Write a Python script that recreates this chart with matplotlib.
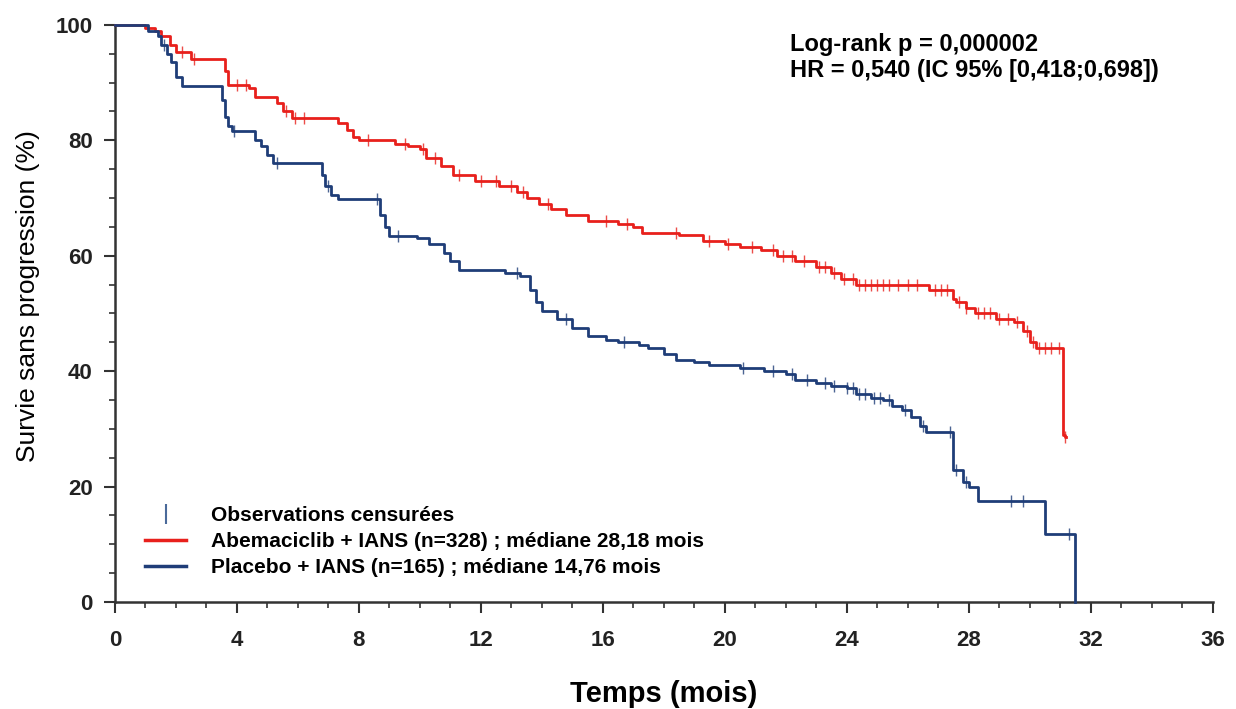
import numpy as np
import matplotlib
matplotlib.use("Agg")
from matplotlib import pyplot as plt
from matplotlib.lines import Line2D
from matplotlib.ticker import MultipleLocator

# Abemaciclib + IANS : step times (months) and survival (%)
abema_t = [0, 1.0, 1.3, 1.5, 1.8, 2.0, 2.5, 3.6, 3.7, 4.4, 4.6, 5.3, 5.5, 5.8, 7.3, 7.6, 7.8,
           8.0, 9.2, 9.6, 10.0, 10.2, 10.7, 11.1, 11.8, 12.6, 13.2, 13.5, 13.9, 14.3, 14.8,
           15.5, 16.5, 17.0, 17.3, 18.5, 19.3, 20.0, 20.5, 21.2, 21.7, 22.3, 23.0, 23.5,
           23.8, 24.3, 26.7, 27.5, 27.6, 27.9, 28.2, 28.9, 29.5, 29.8, 30.0, 30.2, 31.1, 31.15]
abema_s = [100, 99.5, 99, 98, 96.5, 95.3, 94, 92, 89.6, 89, 87.5, 86.5, 85, 83.9, 83, 81.8, 80.5,
           80, 79.3, 79, 78.5, 77, 75.5, 74, 73, 72, 71, 70, 69, 68, 67,
           66, 65.5, 65, 64, 63.5, 62.5, 62, 61.5, 61, 60, 59, 58, 57,
           56, 55, 54, 52.5, 52, 51, 50, 49, 48.5, 47, 45, 44, 29, 28.5]
abema_end = 31.2
abema_cens = [2.2, 2.6, 4.0, 4.3, 5.6, 5.9, 6.2, 8.3, 9.5, 10.1, 10.5, 11.3, 12.0, 12.5,
              13.0, 13.4, 14.2, 16.1, 16.8, 18.4, 19.5, 20.1, 20.9, 21.6, 21.9, 22.2, 22.6,
              23.1, 23.3, 23.6, 23.9, 24.2, 24.4, 24.6, 24.8, 25.0, 25.2, 25.4, 25.7, 26.0,
              26.3, 26.9, 27.1, 27.3, 27.7, 27.9, 28.3, 28.5, 28.7, 29.0, 29.3, 29.6, 29.9,
              30.1, 30.3, 30.5, 30.7, 30.95, 31.15]

# Placebo + IANS
plac_t = [0, 1.1, 1.4, 1.5, 1.7, 1.85, 2.0, 2.2, 3.5, 3.6,
          3.7, 3.85, 4.6, 4.8, 5.0, 5.2, 6.8, 6.9, 7.1, 7.3,
          8.7, 8.85, 9.0, 9.9, 10.3, 10.8, 11.0, 11.3, 12.8, 13.3,
          13.6, 13.8, 14.0, 14.5, 15.0, 15.5, 16.1, 16.5, 17.2, 17.5,
          18.0, 18.4, 19.0, 19.5, 20.5, 21.3, 22.0, 22.3, 23.0, 23.5,
          24.0, 24.3, 24.8, 25.2, 25.5, 25.8, 26.1, 26.4, 26.6, 27.5,
          27.8, 28.0, 28.3, 30.5, 31.5]
plac_s = [100, 99, 98, 96.5, 95, 93.5, 91, 89.4, 87, 84,
          82.5, 81.6, 80, 79, 77.5, 76, 74, 72, 70.5, 69.8,
          67, 65, 63.4, 63, 62, 60.5, 59, 57.5, 57, 56.5,
          54, 52, 50.4, 49, 47.5, 46, 45.4, 45, 44.5, 44,
          43, 42, 41.5, 41, 40.5, 40, 39.5, 38.5, 38, 37.4,
          37, 36, 35.4, 35, 34, 33.3, 32, 30.5, 29.5, 22.9,
          20.8, 20, 17.5, 11.8, 0]
plac_end = 31.5
plac_cens = [1.6, 3.9, 5.3, 7.0, 8.6, 9.3, 13.2, 14.8, 16.7, 20.6, 21.6, 22.2, 22.7, 23.3,
             23.6, 24.0, 24.2, 24.4, 24.6, 24.9, 25.1, 25.4, 25.9, 26.5, 27.4, 27.6, 27.9,
             29.4, 29.8, 31.3]

red = "#e8201c"
blue = "#1f3d78"


def survival_at(times, surv, t):
    idx = np.searchsorted(times, t, side="right") - 1
    return np.asarray(surv)[idx]


fig = plt.figure(figsize=(12.36, 7.09), dpi=100)
ax = fig.add_axes([0.093, 0.151, 0.888, 0.814])

for times, surv, end, cens, color in [
    (abema_t, abema_s, abema_end, abema_cens, red),
    (plac_t, plac_s, plac_end, plac_cens, blue),
]:
    ax.step(times + [end], surv + [surv[-1]], where="post", color=color,
            linewidth=2.0, clip_on=False, zorder=3)
    ax.plot(cens, survival_at(times, surv, cens), linestyle="none", marker="|",
            markersize=9, markeredgewidth=1.0, color=color, zorder=4, alpha=0.8)

ax.set_xlim(0, 36)
ax.set_ylim(0, 100)
ax.xaxis.set_major_locator(MultipleLocator(4))
ax.xaxis.set_minor_locator(MultipleLocator(1))
ax.yaxis.set_major_locator(MultipleLocator(20))
ax.yaxis.set_minor_locator(MultipleLocator(5))
for s in ["top", "right"]:
    ax.spines[s].set_visible(False)
for s in ["left", "bottom"]:
    ax.spines[s].set_linewidth(1.8)
    ax.spines[s].set_color("#333333")
ax.tick_params(which="major", length=8, width=1.5, color="#333333")
ax.tick_params(axis="x", which="major", pad=12)
ax.tick_params(axis="y", which="major", pad=8)
ax.tick_params(which="minor", length=4, width=1.2, color="#333333")

arial = ["Liberation Sans", "DejaVu Sans"]
for lab in ax.get_xticklabels() + ax.get_yticklabels():
    lab.set_family(arial)
    lab.set_fontsize(16)
    lab.set_fontweight("bold")
    lab.set_color("#222222")

ax.set_ylabel("Survie sans progression (%)", fontsize=19, family=arial)
ax.yaxis.set_label_coords(-0.068, 0.53)
ax.set_xlabel("Temps (mois)", fontsize=21, fontweight="bold", family=arial)
ax.xaxis.set_label_coords(0.5, -0.135)

ax.text(0.615, 0.985, "Log-rank p = 0,000002\nHR = 0,540 (IC 95% [0,418;0,698])",
        transform=ax.transAxes, ha="left", va="top", fontsize=17, fontweight="bold",
        family=arial, linespacing=1.15)

handles = [
    Line2D([], [], linestyle="none", marker="|", markersize=14, markeredgewidth=1.5,
           color="#4a6a9a"),
    Line2D([], [], color=red, linewidth=2.5),
    Line2D([], [], color=blue, linewidth=2.5),
]
labels = [
    "Observations censurées",
    "Abemaciclib + IANS (n=328) ; médiane 28,18 mois",
    "Placebo + IANS (n=165) ; médiane 14,76 mois",
]
ax.legend(handles, labels, loc="lower left", bbox_to_anchor=(0.01, 0.01), frameon=False,
          prop={"family": arial, "weight": "bold", "size": 15},
          handlelength=2.0, handletextpad=1.2, labelspacing=0.35)

fig.savefig("out.png", dpi=100, facecolor="white")
